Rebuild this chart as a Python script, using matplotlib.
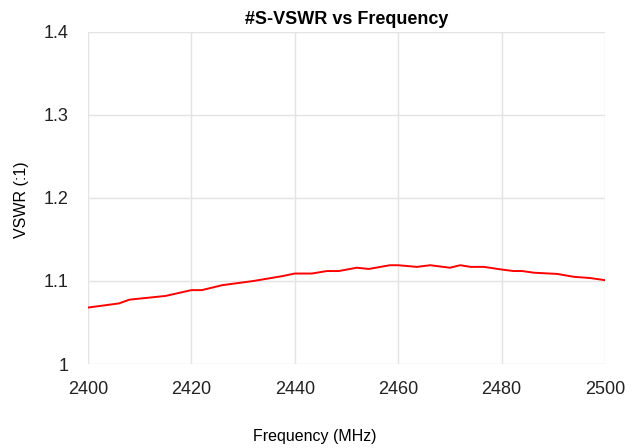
import matplotlib
matplotlib.use("Agg")
import matplotlib.pyplot as plt

# values
freq = [2400, 2406, 2408, 2415, 2420, 2422, 2426, 2432, 2437.7, 2440, 2443.3,
        2446.2, 2448.5, 2452, 2454.3, 2458.4, 2460, 2463.6, 2466.2, 2470,
        2472, 2474, 2476.6, 2479.8, 2482.3, 2484, 2486.2, 2490.8, 2494,
        2497.1, 2500]
vswr = [1.068, 1.073, 1.0775, 1.082, 1.089, 1.089, 1.095, 1.100, 1.106, 1.109,
        1.109, 1.112, 1.112, 1.116, 1.1145, 1.119, 1.119, 1.117, 1.119, 1.116,
        1.119, 1.117, 1.117, 1.114, 1.112, 1.112, 1.110, 1.1085, 1.105,
        1.1036, 1.101]
xticks = [2400, 2420, 2440, 2460, 2480, 2500]
yticks = [1.0, 1.1, 1.2, 1.3, 1.4]
ylabels = ["1", "1.1", "1.2", "1.3", "1.4"]

plt.rcParams['font.family'] = ['Liberation Sans', 'DejaVu Sans']

fig = plt.figure(figsize=(6.39, 4.48), dpi=100)
ax = fig.add_axes([0.1377, 0.1875, 0.8091, 0.7411])

ax.plot(freq, vswr, color='#ff0000', lw=1.4, solid_joinstyle='round')

ax.set_xlim(2400, 2500)
ax.set_ylim(1.0, 1.4)
ax.set_xticks(xticks)
ax.set_yticks(yticks)
ax.set_yticklabels(ylabels)
ax.grid(True, color='#e3e3e3', lw=1)
for s in ax.spines.values():
    s.set_visible(False)
ax.tick_params(length=0, labelsize=13, colors='#222222')
ax.tick_params(axis='x', pad=12)
ax.tick_params(axis='y', pad=14)

ax.set_title("#S-VSWR vs Frequency", fontsize=13, fontweight='bold', pad=6)
fig.text(315 / 639, 1 - 436 / 448, "Frequency (MHz)", ha='center', va='center', fontsize=11.5)
fig.text(22 / 639, 1 - 200 / 448, "VSWR (:1)", ha='center', va='center',
         rotation=90, fontsize=11.5)

fig.savefig("out.png", dpi=100)
